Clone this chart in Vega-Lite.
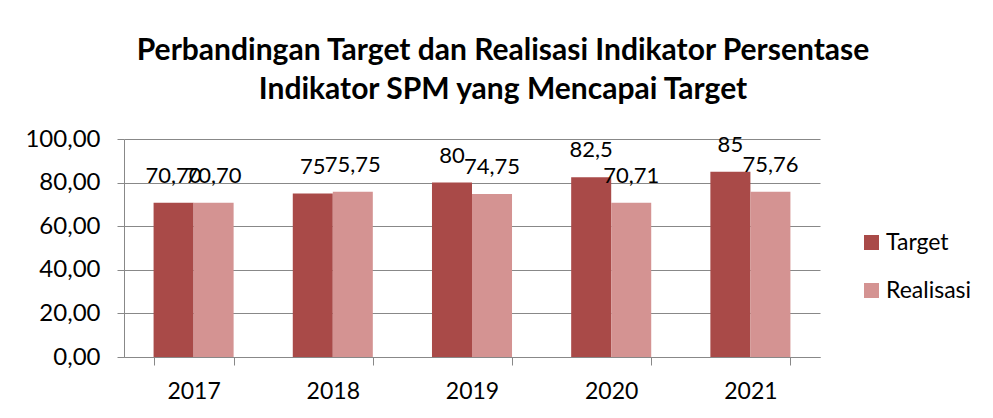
{
  "$schema": "https://vega.github.io/schema/vega-lite/v6.json",
  "width": 696,
  "height": 218,
  "autosize": {"type": "none"},
  "padding": {"left": 124, "top": 139, "right": 173, "bottom": 61},
  "background": "white",
  "title": {
    "text": ["Perbandingan Target dan Realisasi Indikator Persentase", "Indikator SPM yang Mencapai Target"],
    "font": "Lato",
    "fontSize": 30,
    "fontWeight": "bold",
    "color": "black",
    "lineHeight": 39,
    "anchor": "middle",
    "dx": 31,
    "offset": 22
  },
  "data": {
    "values": [
      {"year": "2017", "series": "Target", "value": 70.70, "label": "70,70"},
      {"year": "2017", "series": "Realisasi", "value": 70.70, "label": "70,70"},
      {"year": "2018", "series": "Target", "value": 75, "label": "75"},
      {"year": "2018", "series": "Realisasi", "value": 75.75, "label": "75,75"},
      {"year": "2019", "series": "Target", "value": 80, "label": "80"},
      {"year": "2019", "series": "Realisasi", "value": 74.75, "label": "74,75"},
      {"year": "2020", "series": "Target", "value": 82.5, "label": "82,5"},
      {"year": "2020", "series": "Realisasi", "value": 70.71, "label": "70,71"},
      {"year": "2021", "series": "Target", "value": 85, "label": "85"},
      {"year": "2021", "series": "Realisasi", "value": 75.76, "label": "75,76"}
    ]
  },
  "encoding": {
    "x": {
      "field": "year",
      "type": "nominal",
      "scale": {"paddingInner": 0.425, "paddingOuter": 0.2125},
      "axis": {
        "title": null,
        "labelAngle": 0,
        "labelFont": "Lato",
        "labelFontSize": 23,
        "labelColor": "black",
        "labelPadding": 15,
        "tickSize": 8,
        "tickColor": "#888888",
        "domainColor": "#888888",
        "tickBand": "extent",
        "grid": false
      }
    },
    "xOffset": {"field": "series", "type": "nominal", "sort": ["Target", "Realisasi"], "scale": {"paddingInner": 0, "paddingOuter": 0}},
    "y": {
      "field": "value",
      "type": "quantitative",
      "scale": {"domain": [0, 100], "nice": false},
      "axis": {
        "title": null,
        "values": [0, 20, 40, 60, 80, 100],
        "labelExpr": "replace(format(datum.value, '.2f'), '.', ',')",
        "labelFont": "Lato",
        "labelFontSize": 24,
        "labelColor": "black",
        "labelPadding": 17,
        "tickSize": 7,
        "tickColor": "#888888",
        "domainColor": "#888888",
        "gridColor": "#888888",
        "gridOpacity": 1
      }
    }
  },
  "layer": [
    {
      "mark": {"type": "bar"},
      "encoding": {
        "color": {
          "field": "series",
          "type": "nominal",
          "sort": ["Target", "Realisasi"],
          "scale": {"domain": ["Target", "Realisasi"], "range": ["#A94A48", "#D49392"]},
          "legend": {
            "title": null,
            "orient": "none",
            "legendX": 736,
            "legendY": 92,
            "symbolType": "square",
            "symbolSize": 225,
            "symbolStrokeWidth": 0,
            "labelFont": "Lato",
            "labelFontSize": 23,
            "labelColor": "black",
            "labelOffset": 3,
            "rowPadding": 24
          }
        }
      }
    },
    {
      "mark": {"type": "text", "font": "Lato", "fontSize": 22, "color": "black", "baseline": "alphabetic", "dy": -20},
      "encoding": {"text": {"field": "label"}}
    }
  ],
  "config": {"view": {"stroke": null}}
}
